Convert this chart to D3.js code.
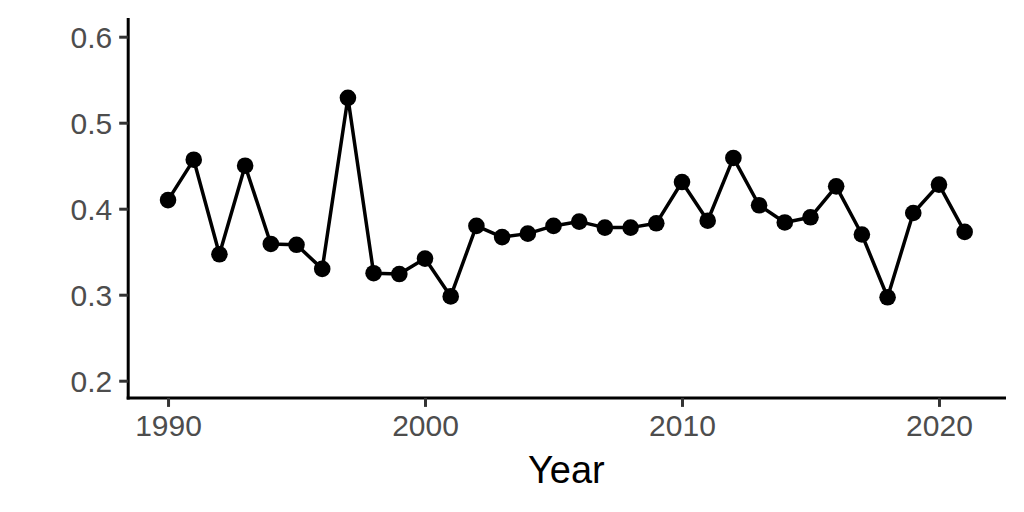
<!DOCTYPE html>
<html>
<head>
<meta charset="utf-8">
<script src="https://cdn.jsdelivr.net/npm/d3@7"></script>
<style>
  html, body { margin: 0; padding: 0; background: #fff; }
  svg { display: block; }
</style>
</head>
<body>
<div id="chart"></div>
<script>
const years = [1990,1991,1992,1993,1994,1995,1996,1997,1998,1999,2000,2001,2002,2003,2004,2005,2006,2007,2008,2009,2010,2011,2012,2013,2014,2015,2016,2017,2018,2019,2020,2021];
const values = [0.410,0.457,0.347,0.450,0.359,0.358,0.330,0.529,0.325,0.324,0.342,0.298,0.380,0.367,0.371,0.380,0.385,0.378,0.378,0.383,0.431,0.386,0.459,0.404,0.384,0.390,0.426,0.370,0.297,0.395,0.428,0.373];
const xTicks = [1990, 2000, 2010, 2020];
const yTicks = [0.2, 0.3, 0.4, 0.5, 0.6];
const xTitle = "Year";

const W = 1024, H = 512;
const svg = d3.select("#chart").append("svg").attr("width", W).attr("height", H);

const x = d3.scaleLinear().domain([1988.45, 2022.55]).range([128.2, 1004.5]);
const y = d3.scaleLinear().domain([0.18, 0.62]).range([397.9, 19.5]);

const font = "'Liberation Sans', Arial, sans-serif";

// axes
const xAxis = svg.append("g").attr("transform", `translate(0,${y(0.18)})`)
  .call(d3.axisBottom(x).tickValues(xTicks).tickFormat(d3.format("d")).tickSize(9).tickPadding(6));
const yAxis = svg.append("g").attr("transform", `translate(${x(1988.45)},0)`)
  .call(d3.axisLeft(y).tickValues(yTicks).tickFormat(d3.format(".1f")).tickSize(9).tickPadding(7));

[xAxis, yAxis].forEach(g => {
  g.select(".domain").attr("stroke", "#000").attr("stroke-width", 3).attr("stroke-linecap", "square");
  g.selectAll(".tick line").attr("stroke", "#333").attr("stroke-width", 3);
  g.selectAll(".tick text").attr("fill", "#4d4d4d").style("font-family", font).style("font-size", "30px");
});
xAxis.select(".domain").attr("d", `M${x(1988.45)},0H${x(2022.55)}`);
yAxis.select(".domain").attr("d", `M0,${y(0.62)}V${y(0.18)}`);
xAxis.selectAll(".tick text").attr("dy", "0.76em");
yAxis.selectAll(".tick text").attr("dy", "0.36em");

// line
const data = years.map((yr, i) => ({ yr, v: values[i] }));
svg.append("path").datum(data)
  .attr("fill", "none").attr("stroke", "#000").attr("stroke-width", 3.5).attr("stroke-linejoin", "round")
  .attr("d", d3.line().x(d => x(d.yr)).y(d => y(d.v)));

svg.append("g").selectAll("circle").data(data).join("circle")
  .attr("cx", d => x(d.yr)).attr("cy", d => y(d.v)).attr("r", 8.3).attr("fill", "#000");

// title
svg.append("text").attr("x", (x(1988.45) + x(2022.55)) / 2).attr("y", 483)
  .attr("text-anchor", "middle").style("font-family", font).style("font-size", "38px").attr("fill", "#000")
  .text(xTitle);
</script>
</body>
</html>
